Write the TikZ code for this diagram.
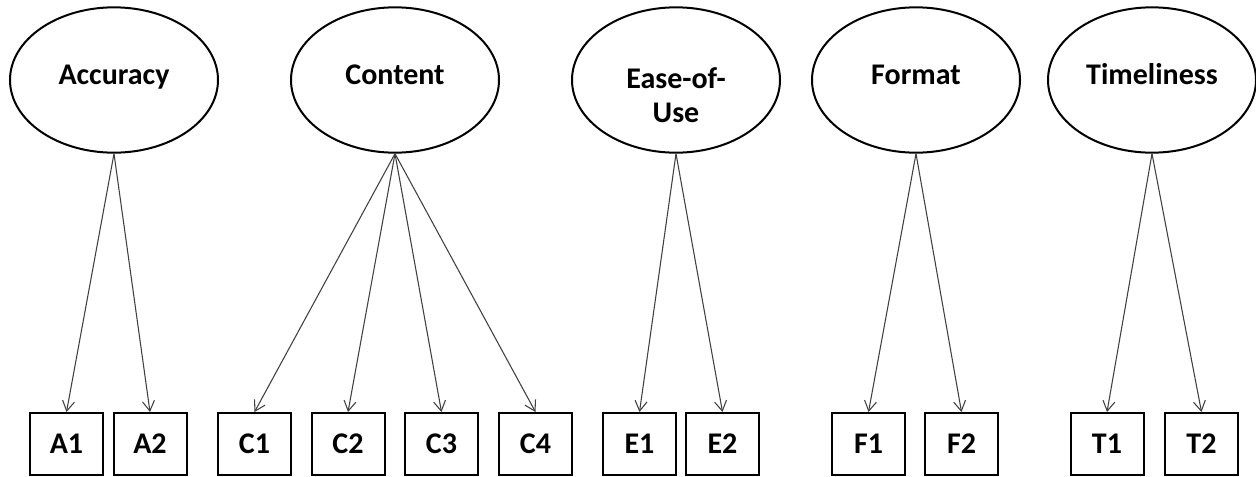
\documentclass[tikz,border=0pt]{standalone}
\usepackage{fontspec}
\setmainfont{Carlito}
\usetikzlibrary{arrows.meta,shapes.geometric}

\tikzset{
  latent/.style={draw=black, line width=1.5pt, ellipse, inner sep=0pt,
    minimum width=156pt, minimum height=109pt, align=center,
    font=\bfseries\fontsize{22.5}{26}\selectfont, text height=15pt, text depth=9pt},
  twoline/.style={text height=70pt, text depth=6pt},
  manifest/.style={draw=black, line width=1.5pt, rectangle, inner sep=0pt,
    minimum width=54.75pt, minimum height=46.5pt,
    font=\bfseries\fontsize{22.5}{26}\selectfont},
  load/.style={draw={rgb,255:red,64;green,64;blue,64}, line width=0.8pt,
    -{Straight Barb[length=7.5pt,width=9pt,line width=0.8pt]}}
}

\begin{document}
\begin{tikzpicture}[x=0.75pt,y=0.75pt,yscale=-1,xscale=1]
\useasboundingbox (0,0) rectangle (1256,476);

%Shape: Ellipse [latent]
\node [latent] (acc) at (114,80) {Accuracy};
\node [latent] (con) at (395,80) {Content};
\node [latent, twoline] (eou) at (676,80) {Ease-of-\\Use};
\node [latent] (fmt) at (916,80) {Format};
\node [latent] (tim) at (1152,80) {Timeliness};

%Shape: Rectangle [manifest]
\node [manifest] (a1) at (66.5,444) {A1};
\node [manifest] (a2) at (150,444) {A2};
\node [manifest] (c1) at (254.5,444) {C1};
\node [manifest] (c2) at (348,444) {C2};
\node [manifest] (c3) at (441.5,444) {C3};
\node [manifest] (c4) at (535.5,444) {C4};
\node [manifest] (e1) at (639.5,444) {E1};
\node [manifest] (e2) at (722.5,444) {E2};
\node [manifest] (f1) at (868.5,444) {F1};
\node [manifest] (f2) at (961.5,444) {F2};
\node [manifest] (t1) at (1107,444) {T1};
\node [manifest] (t2) at (1201.5,444) {T2};

%Straight Lines [loadings]
\draw [load] (acc.south) -- (a1.north) ;
\draw [load] (acc.south) -- (a2.north) ;
\draw [load] (con.south) -- (c1.north) ;
\draw [load] (con.south) -- (c2.north) ;
\draw [load] (con.south) -- (c3.north) ;
\draw [load] (con.south) -- (c4.north) ;
\draw [load] (eou.south) -- (e1.north) ;
\draw [load] (eou.south) -- (e2.north) ;
\draw [load] (fmt.south) -- (f1.north) ;
\draw [load] (fmt.south) -- (f2.north) ;
\draw [load] (tim.south) -- (t1.north) ;
\draw [load] (tim.south) -- (t2.north) ;

\end{tikzpicture}
\end{document}
